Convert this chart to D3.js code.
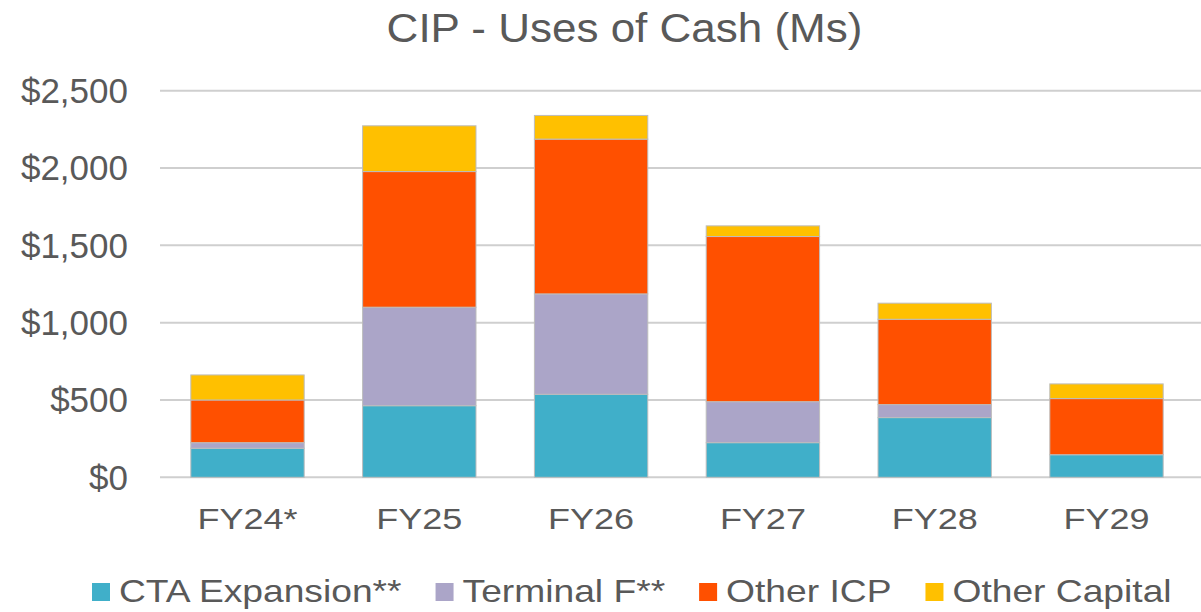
<!DOCTYPE html>
<html>
<head>
<meta charset="utf-8">
<script src="https://cdn.jsdelivr.net/npm/d3@7"></script>
<style>
  body { margin: 0; background: #fff; }
  text { font-family: "Liberation Sans", Arial, sans-serif; fill: #595959; }
</style>
</head>
<body>
<div id="chart"></div>
<script>
// data ($ millions)
var years = ["FY24*", "FY25", "FY26", "FY27", "FY28", "FY29"];
var ctaExpansion = [188, 463, 537, 224, 386, 146];
var terminalF    = [36, 637, 649, 265, 84, 0];
var otherICP     = [276, 877, 1001, 1068, 552, 363];
var otherCapital = [162, 296, 153, 69, 104, 95];
var seriesNames = ["CTA Expansion**", "Terminal F**", "Other ICP", "Other Capital"];
var yTicks = [0, 500, 1000, 1500, 2000, 2500];

var colors = ["#40afc9", "#aba5c8", "#ff5000", "#ffc000"];

var svgWidth = 1201, svgHeight = 612;

var svg = d3.select("#chart")
    .append("svg")
    .attr("width", svgWidth)
    .attr("height", svgHeight);

// build rows for the stack
var keys = ["cta", "termF", "icp", "other"];
var rows = years.map(function(y, i) {
    return { year: y, cta: ctaExpansion[i], termF: terminalF[i], icp: otherICP[i], other: otherCapital[i] };
});
var stacked = d3.stack().keys(keys)(rows);

var xScale = d3.scaleBand()
    .domain(years)
    .range([161.6, 1192.4])
    .paddingInner(0.34)
    .paddingOuter(0.17);

var yScale = d3.scaleLinear()
    .domain([0, 2500])
    .range([477.3, 90.7]);

// gridlines
svg.append("g")
    .selectAll("line")
    .data(yTicks)
    .enter()
    .append("line")
    .attr("x1", 160)
    .attr("x2", svgWidth)
    .attr("y1", d => yScale(d))
    .attr("y2", d => yScale(d))
    .attr("stroke", "#cfcfcf")
    .attr("stroke-width", 2);

// y tick labels
var yAxis = d3.axisLeft(yScale)
    .tickValues(yTicks)
    .tickSize(0)
    .tickPadding(0)
    .tickFormat(d => "$" + d3.format(",")(d));

var yG = svg.append("g")
    .attr("transform", "translate(128,0)")
    .call(yAxis);
yG.select(".domain").remove();
yG.selectAll("text")
    .attr("font-size", 35)
    .attr("font-family", "Liberation Sans, Arial, sans-serif")
    .attr("fill", "#595959")
    .attr("dy", "0.34em");

// stacked bars
svg.append("g")
    .selectAll("g")
    .data(stacked)
    .enter()
    .append("g")
    .attr("fill", (d, i) => colors[i])
    .selectAll("rect")
    .data(d => d)
    .enter()
    .append("rect")
    .attr("x", d => xScale(d.data.year))
    .attr("width", xScale.bandwidth())
    .attr("y", d => yScale(d[1]))
    .attr("height", d => yScale(d[0]) - yScale(d[1]))
    .attr("stroke", "#bdbdbd")
    .attr("stroke-width", d => (d[1] - d[0]) > 0 ? 1 : 0);

// x labels (text in the picture is a bit wide, so stretch it)
var xG = svg.append("g");
xG.selectAll("text")
    .data(years)
    .enter()
    .append("text")
    .attr("transform", d => `translate(${xScale(d) + xScale.bandwidth() / 2}, 529) scale(1.2,1)`)
    .attr("text-anchor", "middle")
    .attr("font-size", 30)
    .text(d => d);

// title
svg.append("text")
    .attr("transform", "translate(624.5, 42) scale(1.1,1)")
    .attr("text-anchor", "middle")
    .attr("font-size", 40)
    .text("CIP - Uses of Cash (Ms)");

// legend
var legend = svg.append("g");
var legendX = 92;
seriesNames.forEach(function(name, i) {
    legend.append("rect")
        .attr("x", legendX)
        .attr("y", 583)
        .attr("width", 18)
        .attr("height", 18)
        .attr("fill", colors[i]);
    var t = legend.append("text")
        .attr("transform", `translate(${legendX + 27}, 601.5) scale(1.2,1)`)
        .attr("font-size", 31)
        .text(name);
    var w = t.node().getComputedTextLength() * 1.2;
    legendX += 27 + w + 34;
});
</script>
</body>
</html>
